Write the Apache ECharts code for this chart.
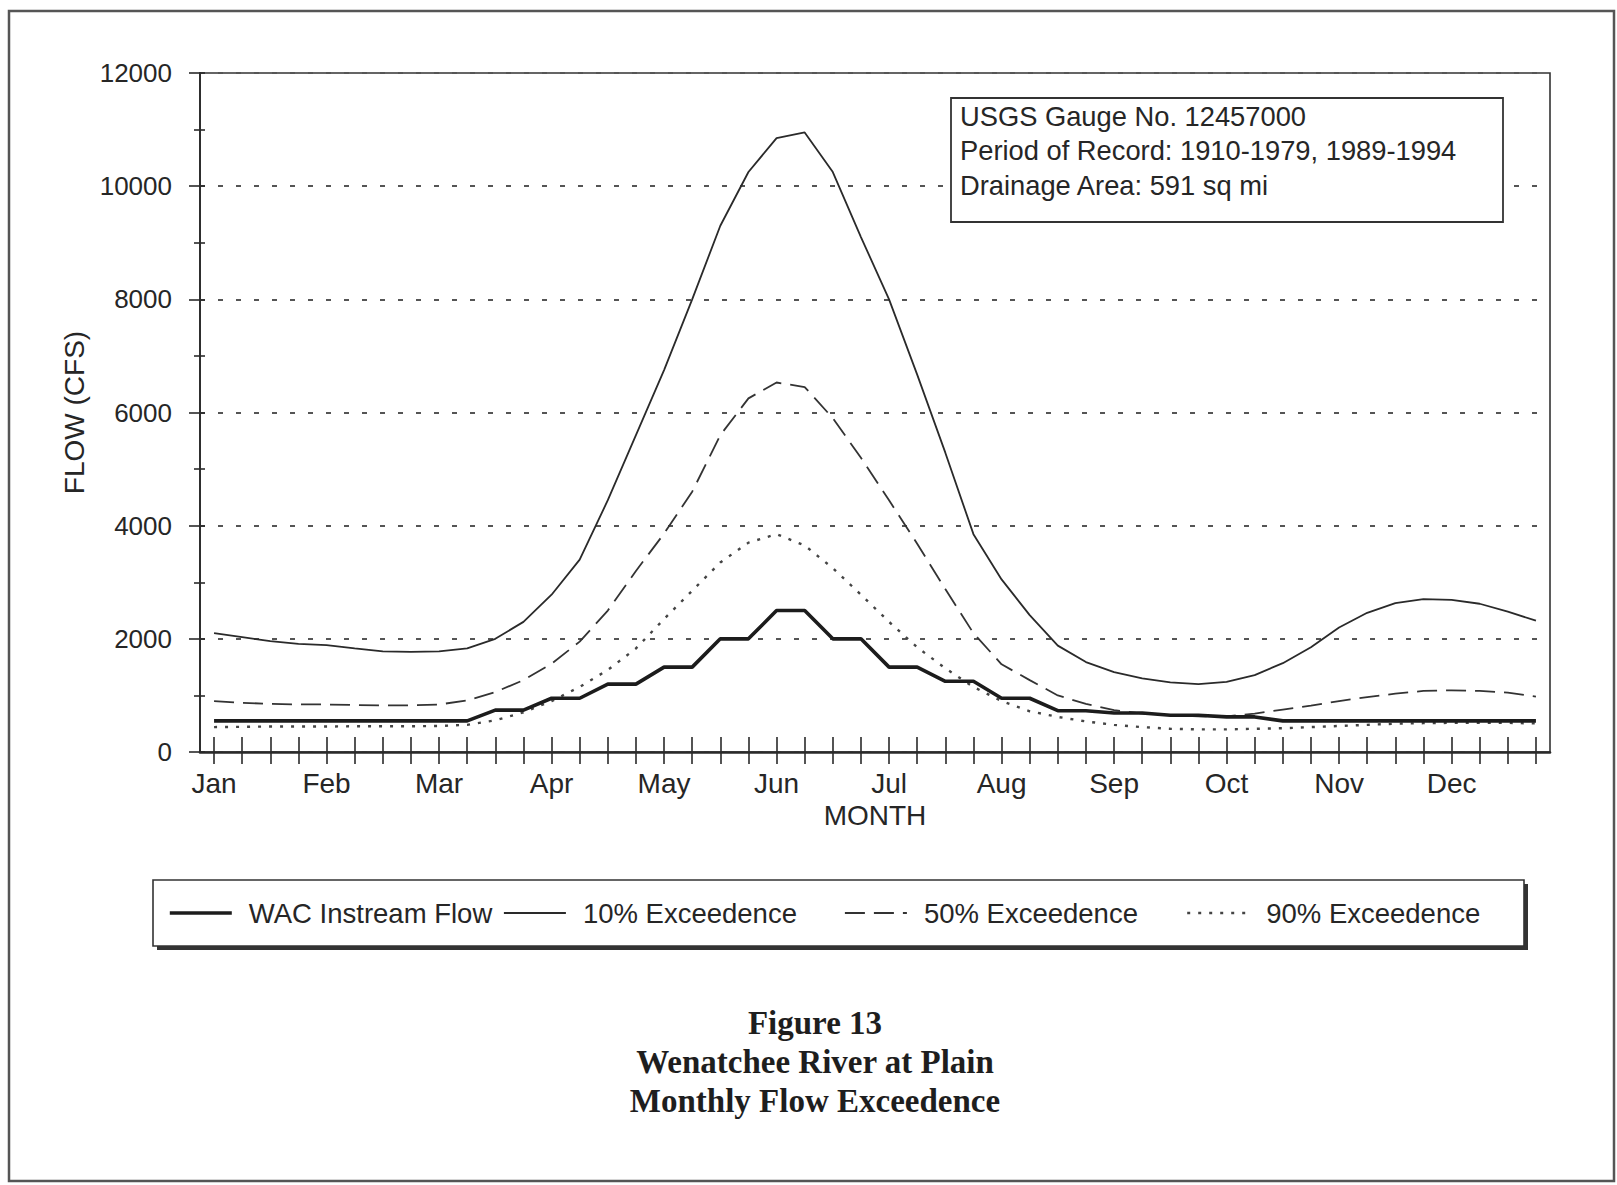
<!DOCTYPE html>
<html>
<head>
<meta charset="utf-8">
<script src="https://cdn.jsdelivr.net/npm/echarts@6/dist/echarts.min.js"></script>
<style>
html,body{margin:0;padding:0;background:#ffffff;}
#chart{width:1617px;height:1185px;}
</style>
</head>
<body>
<div id="chart"></div>
<script>
// ---- data ----
const months = ['Jan','Feb','Mar','Apr','May','Jun','Jul','Aug','Sep','Oct','Nov','Dec'];
const subTicks = ['1','8','15','22'];
const yTickValues = [0, 2000, 4000, 6000, 8000, 10000, 12000];

const wacFlow = [550,550,550,550,550,550,550,550,550,550,740,740,
                 950,950,1200,1200,1500,1500,2000,2000,2500,2500,2000,2000,
                 1500,1500,1250,1250,950,950,730,730,690,690,650,650,
                 620,620,550,550,550,550,550,550,550,550,550,550];
const exceed10 = [2100,2030,1960,1910,1890,1830,1780,1770,1780,1830,2000,2300,
                  2780,3400,4450,5600,6750,8000,9300,10250,10850,10950,10250,9100,
                  8000,6670,5290,3850,3050,2420,1880,1590,1410,1300,1230,1200,
                  1240,1360,1570,1850,2200,2460,2630,2700,2690,2620,2480,2320];
const exceed50 = [900,870,850,840,840,830,825,825,840,910,1060,1270,
                  1560,1950,2500,3200,3860,4600,5600,6250,6530,6450,5900,5200,
                  4450,3680,2880,2100,1550,1270,1000,850,740,680,650,630,
                  630,680,750,820,900,970,1030,1080,1090,1080,1050,980];
const exceed90 = [440,445,450,450,450,455,455,455,460,480,560,700,
                  900,1150,1450,1830,2350,2850,3350,3700,3850,3650,3250,2780,
                  2300,1850,1480,1150,900,720,620,540,480,440,410,400,
                  400,410,420,440,460,480,500,510,515,515,515,505];

const seriesNames = ['WAC Instream Flow','10% Exceedence','50% Exceedence','90% Exceedence'];
const gaugeInfo = ['USGS Gauge No. 12457000','Period of Record: 1910-1979, 1989-1994','Drainage Area: 591 sq mi'];
const figureTitle = ['Figure 13','Wenatchee River at Plain','Monthly Flow Exceedence'];
const xAxisName = 'MONTH';
const yAxisName = 'FLOW (CFS)';

// ---- build ----
const periods = months.flatMap(m => subTicks.map(d => m + ' ' + d));
const INK = '#262626';
const SANS = '"Liberation Sans", Arial, sans-serif';

const styles = [
  {color: '#1c1c1c', width: 3.6, type: 'solid'},
  {color: '#2a2a2a', width: 1.8, type: 'solid'},
  {color: '#333333', width: 1.8, type: [20, 9]},
  {color: '#444444', width: 2.4, type: [3, 8]}
];

const chart = echarts.init(document.getElementById('chart'), null, {renderer: 'svg'});

const gridBox = {left: 200, right: 67, top: 73, bottom: 433};

function legendItem(i, left) {
  return {
    data: [seriesNames[i]], left: left, top: 899, padding: 0,
    itemWidth: 62, itemHeight: 16, selectedMode: false,
    itemStyle: {color: 'rgba(0,0,0,0)', borderWidth: 0, opacity: 0},
    lineStyle: {color: styles[i].color, width: styles[i].width, type: styles[i].type},
    textStyle: {fontFamily: SANS, fontSize: 27.5, color: INK, padding: [0, 0, 0, 12]}
  };
}

const option = {
  animation: false,
  backgroundColor: '#ffffff',
  title: {
    text: figureTitle.join('\n'),
    left: 815, top: 1003, padding: 0, textAlign: 'center',
    textStyle: {fontFamily: '"Liberation Serif", "Times New Roman", serif', fontWeight: 'bold',
                fontSize: 33, lineHeight: 39, color: '#1e1e1e'}
  },
  legend: [
    legendItem(0, 168),
    legendItem(1, 503),
    legendItem(2, 844),
    legendItem(3, 1186)
  ],
  grid: Object.assign({show: true, borderColor: '#333', borderWidth: 1.6, backgroundColor: 'transparent', containLabel: false}, gridBox),
  xAxis: [
    {
      type: 'category', data: periods, boundaryGap: true, position: 'bottom',
      name: xAxisName, nameLocation: 'middle', nameGap: 40,
      nameTextStyle: {fontFamily: SANS, fontSize: 28, color: INK},
      axisLine: {show: true, lineStyle: {color: '#2a2a2a', width: 2.6}},
      axisTick: {show: true, alignWithLabel: true, interval: 0, length: 12, lineStyle: {color: '#2a2a2a', width: 1.6}},
      axisLabel: {interval: 3, margin: 17, fontFamily: SANS, fontSize: 28, color: INK,
                  formatter: v => v.split(' ')[0]},
      splitLine: {show: false}
    },
    {
      type: 'category', data: periods, boundaryGap: true, position: 'bottom', offset: 0,
      axisLine: {show: false},
      axisTick: {show: true, inside: true, alignWithLabel: true, interval: 0, length: 15, lineStyle: {color: '#2a2a2a', width: 1.6}},
      axisLabel: {show: false},
      splitLine: {show: false}
    }
  ],
  yAxis: [
    {
      type: 'value', position: 'left',
      min: yTickValues[0], max: yTickValues[yTickValues.length - 1], interval: yTickValues[1] - yTickValues[0],
      name: yAxisName, nameLocation: 'middle', nameGap: 86, nameRotate: 90,
      nameTextStyle: {fontFamily: SANS, fontSize: 28, color: INK},
      axisLine: {show: true, lineStyle: {color: '#2a2a2a', width: 1.8}},
      axisTick: {show: true, length: 11, lineStyle: {color: '#2a2a2a', width: 1.6}},
      minorTick: {show: true, splitNumber: 2, length: 6, lineStyle: {color: '#2a2a2a', width: 1.6}},
      axisLabel: {margin: 28, fontFamily: SANS, fontSize: 26, color: INK, formatter: v => String(v)},
      splitLine: {show: true, lineStyle: {color: '#555', width: 1.8, type: [5, 13]}}
    },
    {
      type: 'value', position: 'left', offset: 0,
      min: yTickValues[0], max: yTickValues[yTickValues.length - 1], interval: (yTickValues[1] - yTickValues[0]) / 2,
      axisLine: {show: false},
      axisTick: {show: true, inside: true, length: 5, lineStyle: {color: '#2a2a2a', width: 1.6}},
      axisLabel: {show: false},
      splitLine: {show: false}
    }
  ],
  series: [
    {name: seriesNames[0], type: 'line', data: wacFlow, symbol: 'none', z: 6, lineStyle: styles[0]},
    {name: seriesNames[1], type: 'line', data: exceed10, symbol: 'none', z: 5, lineStyle: styles[1]},
    {name: seriesNames[2], type: 'line', data: exceed50, symbol: 'none', z: 4, lineStyle: styles[2]},
    {name: seriesNames[3], type: 'line', data: exceed90, symbol: 'none', z: 3, lineStyle: styles[3]}
  ],
  graphic: [
    // page frame
    {type: 'rect', z: 0, shape: {x: 9, y: 11, width: 1605, height: 1170},
     style: {fill: 'none', stroke: '#555', lineWidth: 2.5}},
    // legend box shadow + box
    {type: 'rect', z: 0, shape: {x: 157, y: 884, width: 1371, height: 66},
     style: {fill: '#333', stroke: 'none'}},
    {type: 'rect', z: 0, shape: {x: 153, y: 880, width: 1371, height: 66},
     style: {fill: '#fff', stroke: '#333', lineWidth: 1.6}},
    // gauge info box (above the grid lines)
    {type: 'rect', z: 50, zlevel: 0, shape: {x: 951, y: 98, width: 552, height: 124},
     style: {fill: '#fff', stroke: '#333', lineWidth: 1.8}},
    {type: 'text', z: 51, zlevel: 0, x: 960, y: 99,
     style: {text: gaugeInfo.join('\n'), font: '27.3px ' + SANS, lineHeight: 34.5, fill: INK}}
  ]
};
chart.setOption(option);
</script>
</body>
</html>
